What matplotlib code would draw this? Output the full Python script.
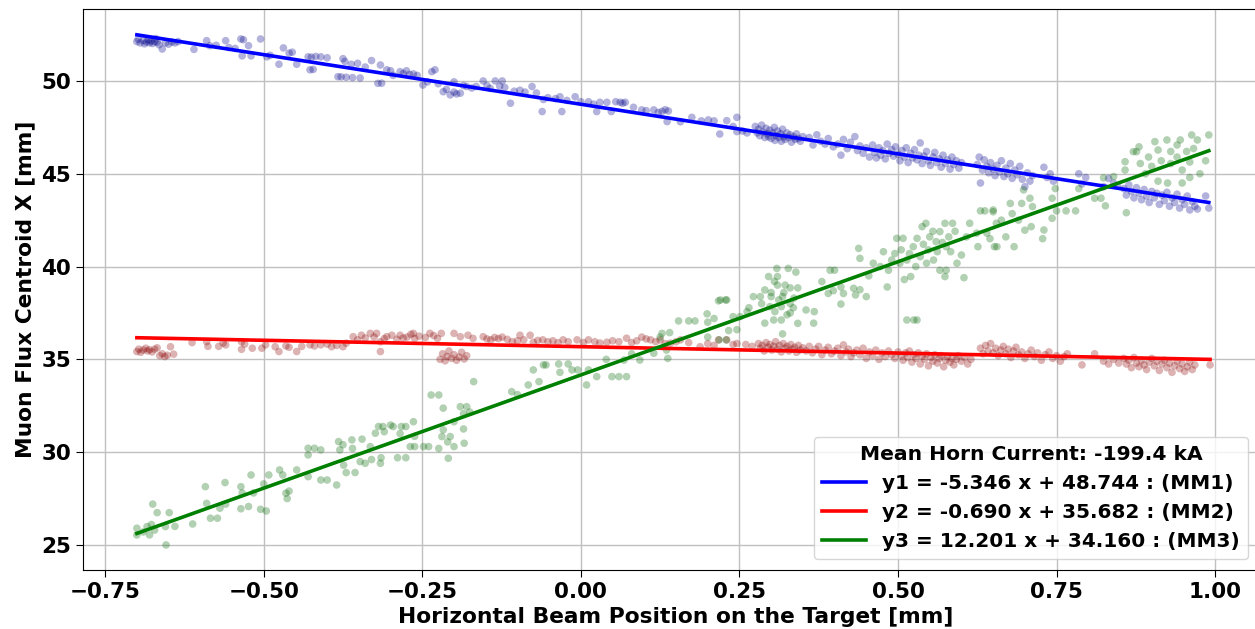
import numpy as np
import matplotlib
matplotlib.use('Agg')
import matplotlib.pyplot as plt

# beam position [mm] vs. muon flux centroid [mm] for each muon monitor
mm1_points = [
    (-0.700, 52.12), (-0.698, 52.25), (-0.695, 52.05), (-0.690, 52.18), (-0.688, 52.00), (-0.685, 52.10),
    (-0.682, 52.22), (-0.680, 52.05), (-0.678, 52.15), (-0.675, 52.02), (-0.672, 52.12), (-0.670, 52.28),
    (-0.668, 52.08), (-0.665, 51.95), (-0.660, 51.72), (-0.655, 52.05), (-0.650, 51.98), (-0.645, 52.10),
    (-0.640, 52.05), (-0.635, 52.12), (-0.610, 51.70), (-0.590, 52.17), (-0.585, 51.90), (-0.575, 51.92),
    (-0.560, 52.17), (-0.555, 51.80), (-0.545, 51.75), (-0.536, 52.26), (-0.532, 52.22), (-0.524, 51.90),
    (-0.534, 51.35), (-0.520, 51.35), (-0.505, 52.26), (-0.495, 51.30), (-0.490, 51.38), (-0.469, 51.78),
    (-0.460, 51.50), (-0.455, 51.55), (-0.476, 50.90), (-0.448, 50.90), (-0.430, 51.30), (-0.425, 51.28),
    (-0.418, 51.32), (-0.410, 51.30), (-0.400, 51.25), (-0.427, 50.60), (-0.422, 50.62), (-0.375, 51.20),
    (-0.372, 51.05), (-0.383, 50.23), (-0.378, 50.22), (-0.370, 50.20), (-0.360, 50.18), (-0.348, 50.16),
    (-0.362, 50.90), (-0.352, 50.95), (-0.330, 51.10), (-0.340, 50.75), (-0.316, 50.86), (-0.320, 49.87),
    (-0.314, 49.88), (-0.306, 50.60), (-0.300, 50.55), (-0.296, 50.30), (-0.285, 50.50), (-0.280, 50.40),
    (-0.275, 50.55), (-0.270, 50.35), (-0.264, 50.38), (-0.258, 50.30), (-0.249, 49.78), (-0.242, 49.95),
    (-0.235, 50.50), (-0.230, 50.60), (-0.225, 49.85), (-0.217, 49.42), (-0.212, 49.55), (-0.206, 49.25),
    (-0.200, 49.40), (-0.196, 49.30), (-0.190, 49.34), (-0.200, 49.95), (-0.185, 49.75), (-0.180, 49.70),
    (-0.172, 49.62), (-0.165, 49.70), (-0.154, 50.00), (-0.148, 49.75), (-0.143, 49.60), (-0.135, 50.00),
    (-0.128, 49.72), (-0.124, 50.00), (-0.120, 49.65), (-0.111, 48.80), (-0.105, 49.45), (-0.096, 49.50),
    (-0.088, 49.40), (-0.077, 49.70), (-0.070, 49.35), (-0.061, 48.35), (-0.059, 49.00), (-0.052, 49.10),
    (-0.040, 49.05), (-0.033, 49.15), (-0.030, 48.35), (-0.022, 48.95), (-0.009, 49.15), (0.000, 48.88),
    (0.012, 48.88), (0.020, 48.75), (0.025, 48.35), (0.030, 48.85), (0.041, 48.85), (0.048, 48.35),
    (0.055, 48.88), (0.062, 48.85), (0.070, 48.85), (0.066, 48.80), (0.083, 48.58), (0.096, 48.44),
    (0.103, 48.40), (0.115, 48.44), (0.122, 48.30), (0.128, 48.36), (0.133, 48.45), (0.138, 48.38),
    (0.136, 47.81), (0.157, 47.80), (0.175, 48.04), (0.190, 47.85), (0.201, 47.90), (0.210, 47.85),
    (0.219, 47.14), (0.230, 47.86), (0.240, 47.55), (0.246, 48.04), (0.246, 47.27), (0.255, 47.30),
    (0.262, 47.20), (0.275, 47.55), (0.278, 47.20), (0.280, 47.40), (0.282, 47.05), (0.285, 47.62),
    (0.287, 47.25), (0.290, 46.95), (0.292, 47.45), (0.294, 47.15), (0.296, 47.00), (0.298, 47.35),
    (0.300, 46.90), (0.302, 47.20), (0.305, 47.50), (0.306, 46.80), (0.308, 47.05), (0.310, 47.30),
    (0.312, 46.95), (0.315, 47.15), (0.316, 46.75), (0.318, 47.40), (0.320, 47.00), (0.322, 46.85),
    (0.325, 47.20), (0.327, 46.95), (0.330, 47.10), (0.332, 46.70), (0.335, 47.00), (0.338, 46.85),
    (0.340, 47.15), (0.343, 46.90), (0.346, 46.75), (0.350, 47.00), (0.360, 46.95), (0.366, 46.55),
    (0.372, 47.10), (0.378, 46.75), (0.385, 46.60), (0.390, 46.90), (0.398, 46.45), (0.405, 46.60),
    (0.410, 46.00), (0.414, 46.85), (0.420, 46.35), (0.425, 46.70), (0.432, 47.00), (0.436, 46.25),
    (0.440, 46.50), (0.445, 46.10), (0.450, 46.40), (0.455, 45.90), (0.460, 46.55), (0.463, 46.15),
    (0.466, 45.85), (0.470, 46.40), (0.473, 46.00), (0.476, 46.25), (0.480, 45.80), (0.483, 46.60),
    (0.486, 46.10), (0.490, 46.30), (0.493, 45.95), (0.496, 46.45), (0.500, 46.05), (0.503, 45.70),
    (0.506, 46.25), (0.510, 45.90), (0.513, 46.40), (0.516, 45.60), (0.520, 46.10), (0.523, 45.85),
    (0.526, 46.30), (0.530, 45.75), (0.533, 46.00), (0.535, 46.66), (0.538, 45.55), (0.541, 45.95),
    (0.545, 46.20), (0.548, 45.70), (0.551, 45.45), (0.555, 45.90), (0.558, 46.15), (0.561, 45.60),
    (0.565, 45.80), (0.568, 45.35), (0.571, 46.00), (0.575, 45.55), (0.578, 45.75), (0.582, 45.25),
    (0.585, 45.90), (0.588, 45.50), (0.592, 45.70), (0.596, 45.30), (0.600, 45.60), (0.625, 45.50),
    (0.628, 45.90), (0.630, 44.50), (0.633, 45.20), (0.636, 45.75), (0.640, 45.40), (0.643, 45.05),
    (0.646, 45.60), (0.650, 45.25), (0.653, 44.90), (0.656, 45.45), (0.660, 45.10), (0.663, 45.70),
    (0.667, 44.85), (0.670, 45.30), (0.673, 45.00), (0.677, 45.55), (0.680, 44.75), (0.684, 45.20),
    (0.688, 44.95), (0.692, 45.40), (0.696, 44.70), (0.700, 44.30), (0.704, 45.05), (0.708, 44.60),
    (0.712, 44.90), (0.730, 45.35), (0.735, 44.80), (0.740, 45.00), (0.745, 44.60), (0.785, 45.00),
    (0.790, 44.45), (0.796, 44.80), (0.824, 44.30), (0.832, 44.75), (0.840, 44.50), (0.846, 44.35),
    (0.856, 44.20), (0.860, 43.85), (0.864, 44.40), (0.868, 44.05), (0.872, 43.70), (0.876, 44.25),
    (0.880, 43.95), (0.884, 43.60), (0.888, 44.15), (0.892, 43.80), (0.896, 43.45), (0.900, 44.05),
    (0.904, 43.70), (0.908, 43.95), (0.912, 43.35), (0.916, 43.85), (0.920, 43.55), (0.924, 44.00),
    (0.928, 43.25), (0.932, 43.70), (0.936, 43.45), (0.940, 43.90), (0.944, 43.15), (0.948, 43.60),
    (0.952, 43.35), (0.956, 43.80), (0.960, 43.05), (0.964, 43.50), (0.968, 43.25), (0.972, 43.10),
    (0.985, 43.80), (0.990, 43.15),
]

mm2_points = [
    (-0.700, 35.42), (-0.697, 35.55), (-0.694, 35.38), (-0.690, 35.50), (-0.686, 35.60), (-0.683, 35.45),
    (-0.680, 35.52), (-0.676, 35.40), (-0.672, 35.55), (-0.668, 35.62), (-0.664, 35.20), (-0.660, 35.30),
    (-0.656, 35.15), (-0.652, 35.22), (-0.647, 35.68), (-0.642, 35.28), (-0.613, 35.90), (-0.590, 35.95),
    (-0.588, 35.70), (-0.571, 35.70), (-0.564, 35.88), (-0.560, 35.78), (-0.535, 35.95), (-0.535, 35.54),
    (-0.530, 35.82), (-0.518, 35.60), (-0.503, 35.60), (-0.497, 35.78), (-0.482, 35.68), (-0.476, 35.42),
    (-0.465, 35.72), (-0.460, 35.65), (-0.448, 35.42), (-0.440, 35.70), (-0.427, 35.78), (-0.420, 35.72),
    (-0.410, 35.78), (-0.400, 35.82), (-0.393, 35.68), (-0.385, 35.75), (-0.375, 35.68), (-0.370, 35.87),
    (-0.359, 36.22), (-0.352, 36.05), (-0.346, 36.30), (-0.340, 36.15), (-0.332, 36.40), (-0.326, 36.20),
    (-0.322, 36.40), (-0.316, 35.95), (-0.316, 35.42), (-0.310, 36.12), (-0.306, 36.22), (-0.298, 36.30),
    (-0.290, 36.08), (-0.285, 36.30), (-0.280, 36.15), (-0.274, 36.20), (-0.268, 36.35), (-0.264, 36.40),
    (-0.262, 36.13), (-0.255, 36.25), (-0.245, 36.18), (-0.238, 36.40), (-0.232, 36.28), (-0.226, 36.13),
    (-0.220, 36.40), (-0.211, 35.15), (-0.222, 35.00), (-0.218, 35.30), (-0.214, 34.92), (-0.208, 35.45),
    (-0.204, 35.05), (-0.200, 35.25), (-0.196, 34.95), (-0.192, 35.12), (-0.188, 35.38), (-0.184, 35.02),
    (-0.180, 35.20), (-0.200, 36.40), (-0.190, 36.22), (-0.178, 36.30), (-0.170, 36.13), (-0.154, 36.22),
    (-0.148, 36.10), (-0.142, 36.05), (-0.136, 36.18), (-0.130, 36.12), (-0.124, 36.20), (-0.116, 36.08),
    (-0.108, 35.95), (-0.100, 36.00), (-0.096, 36.30), (-0.090, 36.05), (-0.080, 36.30), (-0.075, 35.92),
    (-0.068, 36.02), (-0.060, 36.05), (-0.052, 35.95), (-0.044, 36.00), (-0.036, 35.90), (-0.028, 36.05),
    (-0.020, 35.95), (-0.006, 36.05), (0.004, 35.90), (0.012, 36.05), (0.022, 35.95), (0.030, 35.88),
    (0.041, 35.92), (0.050, 36.00), (0.060, 35.95), (0.072, 36.14), (0.080, 35.90), (0.088, 36.00),
    (0.096, 36.20), (0.103, 36.10), (0.110, 36.05), (0.118, 35.95), (0.125, 36.05), (0.133, 35.85),
    (0.141, 35.87), (0.150, 35.95), (0.157, 36.05), (0.170, 35.90), (0.188, 35.68), (0.200, 35.85),
    (0.210, 35.75), (0.217, 36.05), (0.230, 36.05), (0.240, 35.80), (0.246, 35.85), (0.260, 35.80),
    (0.270, 35.70), (0.280, 35.85), (0.283, 35.60), (0.286, 35.75), (0.289, 35.45), (0.292, 35.90),
    (0.295, 35.65), (0.298, 35.80), (0.301, 35.50), (0.304, 35.70), (0.307, 35.95), (0.310, 35.55),
    (0.313, 35.75), (0.316, 35.40), (0.319, 35.85), (0.322, 35.60), (0.325, 35.70), (0.328, 35.45),
    (0.331, 35.80), (0.334, 35.55), (0.337, 35.65), (0.340, 35.38), (0.343, 35.75), (0.346, 35.50),
    (0.350, 35.62), (0.355, 35.45), (0.360, 35.70), (0.365, 35.35), (0.370, 35.55), (0.375, 35.70),
    (0.380, 35.25), (0.385, 35.50), (0.390, 35.65), (0.395, 35.30), (0.400, 35.45), (0.405, 35.60),
    (0.410, 35.20), (0.414, 35.78), (0.418, 35.40), (0.422, 35.55), (0.426, 35.15), (0.430, 35.35),
    (0.435, 35.50), (0.440, 35.25), (0.445, 35.60), (0.450, 35.05), (0.455, 35.40), (0.460, 35.20),
    (0.465, 35.50), (0.470, 35.00), (0.475, 35.35), (0.480, 35.15), (0.485, 35.45), (0.490, 35.25),
    (0.495, 35.05), (0.500, 35.40), (0.505, 35.20), (0.508, 34.95), (0.512, 35.35), (0.515, 35.10),
    (0.518, 35.45), (0.522, 34.85), (0.525, 35.25), (0.528, 35.05), (0.532, 35.35), (0.535, 34.75),
    (0.538, 35.15), (0.542, 35.00), (0.545, 35.30), (0.548, 34.65), (0.552, 35.10), (0.555, 34.90),
    (0.558, 35.25), (0.562, 34.80), (0.565, 35.05), (0.568, 35.20), (0.572, 34.60), (0.575, 34.95),
    (0.578, 35.15), (0.582, 34.85), (0.585, 35.05), (0.588, 34.70), (0.592, 35.00), (0.595, 35.20),
    (0.600, 34.90), (0.605, 35.10), (0.610, 34.75), (0.615, 35.00), (0.630, 35.60), (0.634, 35.30),
    (0.638, 35.75), (0.642, 35.45), (0.646, 35.85), (0.650, 35.35), (0.654, 35.60), (0.658, 35.20),
    (0.662, 35.50), (0.666, 35.70), (0.670, 35.30), (0.674, 35.55), (0.678, 35.10), (0.682, 35.45),
    (0.686, 35.65), (0.690, 35.25), (0.695, 35.40), (0.700, 35.05), (0.705, 35.30), (0.710, 35.50),
    (0.715, 35.15), (0.720, 35.35), (0.726, 34.95), (0.732, 35.25), (0.738, 35.40), (0.744, 35.05),
    (0.750, 35.20), (0.756, 34.90), (0.762, 35.15), (0.767, 35.30), (0.790, 34.70), (0.810, 35.30),
    (0.824, 34.90), (0.832, 34.75), (0.840, 35.00), (0.848, 34.80), (0.856, 35.05), (0.860, 34.75),
    (0.864, 34.95), (0.868, 34.55), (0.872, 35.10), (0.876, 34.80), (0.880, 34.60), (0.884, 34.95),
    (0.888, 34.70), (0.892, 34.45), (0.896, 34.85), (0.900, 35.05), (0.904, 34.65), (0.908, 34.90),
    (0.912, 34.40), (0.916, 34.75), (0.920, 34.95), (0.924, 34.55), (0.928, 34.80), (0.932, 34.30),
    (0.936, 34.65), (0.940, 34.90), (0.944, 34.50), (0.948, 34.75), (0.952, 34.35), (0.956, 34.60),
    (0.960, 34.85), (0.964, 34.45), (0.968, 34.70), (0.992, 34.70),
]

mm3_points = [
    (-0.700, 25.54), (-0.700, 25.90), (-0.690, 25.70), (-0.684, 25.99), (-0.680, 25.54), (-0.677, 26.10),
    (-0.672, 25.80), (-0.668, 26.74), (-0.675, 27.20), (-0.655, 25.99), (-0.654, 25.00), (-0.649, 26.74),
    (-0.640, 26.00), (-0.612, 26.13), (-0.592, 28.14), (-0.590, 27.24), (-0.584, 26.44), (-0.573, 26.44),
    (-0.569, 26.98), (-0.561, 28.36), (-0.560, 27.20), (-0.536, 28.14), (-0.536, 26.95), (-0.534, 27.80),
    (-0.524, 27.07), (-0.520, 28.77), (-0.516, 27.80), (-0.505, 26.92), (-0.500, 28.29), (-0.496, 26.83),
    (-0.492, 28.77), (-0.475, 29.04), (-0.470, 28.77), (-0.465, 27.79), (-0.463, 27.50), (-0.460, 27.90),
    (-0.448, 29.04), (-0.430, 30.21), (-0.420, 30.21), (-0.430, 29.85), (-0.430, 28.68), (-0.410, 28.50),
    (-0.410, 30.12), (-0.400, 28.50), (-0.385, 28.23), (-0.382, 30.57), (-0.380, 30.12), (-0.375, 30.40),
    (-0.374, 29.30), (-0.370, 28.90), (-0.361, 30.66), (-0.360, 30.20), (-0.356, 28.90), (-0.348, 29.49),
    (-0.345, 30.70), (-0.340, 29.40), (-0.332, 30.30), (-0.330, 29.60), (-0.324, 31.02), (-0.319, 31.38),
    (-0.316, 29.40), (-0.315, 29.70), (-0.312, 31.38), (-0.310, 31.10), (-0.300, 31.46), (-0.296, 31.38),
    (-0.289, 29.70), (-0.285, 31.00), (-0.283, 31.38), (-0.276, 31.38), (-0.276, 29.70), (-0.269, 30.30),
    (-0.264, 31.64), (-0.262, 30.85), (-0.262, 30.30), (-0.248, 30.30), (-0.240, 30.30), (-0.236, 33.08),
    (-0.224, 33.08), (-0.224, 30.20), (-0.219, 30.84), (-0.217, 32.37), (-0.217, 31.20), (-0.210, 30.55),
    (-0.209, 29.67), (-0.206, 30.84), (-0.200, 30.30), (-0.200, 31.64), (-0.190, 32.45), (-0.185, 32.07),
    (-0.184, 30.48), (-0.185, 31.25), (-0.180, 32.45), (-0.175, 32.16), (-0.169, 33.80), (-0.109, 33.26),
    (-0.100, 33.10), (-0.083, 33.62), (-0.075, 34.43), (-0.059, 34.70), (-0.055, 34.70), (-0.066, 33.80),
    (-0.035, 34.75), (-0.033, 34.30), (-0.020, 34.75), (-0.014, 34.43), (-0.005, 34.43), (0.009, 33.62),
    (0.012, 34.43), (0.025, 34.07), (0.040, 35.00), (0.049, 34.07), (0.060, 34.07), (0.072, 34.07),
    (0.068, 34.96), (0.080, 35.30), (0.093, 34.96), (0.115, 35.33), (0.128, 36.40), (0.140, 36.44),
    (0.125, 36.20), (0.137, 35.05), (0.135, 35.50), (0.154, 37.07), (0.170, 37.07), (0.180, 37.07),
    (0.199, 37.45), (0.200, 37.00), (0.200, 36.20), (0.210, 37.20), (0.217, 38.15), (0.228, 38.20),
    (0.218, 36.05), (0.229, 36.05), (0.233, 36.55), (0.246, 36.60), (0.262, 37.57), (0.220, 38.20),
    (0.230, 38.20), (0.240, 37.30), (0.251, 37.30), (0.265, 37.78), (0.272, 38.38), (0.283, 38.38),
    (0.285, 38.00), (0.290, 38.74), (0.290, 36.95), (0.296, 39.46), (0.298, 37.84), (0.300, 38.38),
    (0.304, 37.12), (0.306, 37.57), (0.309, 39.90), (0.310, 39.46), (0.310, 39.00), (0.316, 37.84),
    (0.316, 37.12), (0.318, 38.38), (0.318, 36.37), (0.322, 39.00), (0.327, 39.90), (0.330, 38.85),
    (0.330, 38.00), (0.330, 37.50), (0.335, 37.78), (0.339, 39.70), (0.342, 38.85), (0.342, 36.94),
    (0.300, 38.60), (0.305, 39.20), (0.312, 38.20), (0.320, 38.60), (0.325, 37.40), (0.336, 38.30),
    (0.355, 37.66), (0.367, 36.95), (0.368, 37.57), (0.380, 39.19), (0.390, 38.55), (0.393, 39.80),
    (0.398, 38.70), (0.400, 39.80), (0.410, 38.90), (0.410, 37.98), (0.414, 38.55), (0.430, 38.83),
    (0.433, 38.47), (0.438, 40.98), (0.440, 38.75), (0.440, 40.44), (0.450, 38.38), (0.454, 39.50),
    (0.461, 40.18), (0.472, 40.00), (0.477, 40.80), (0.483, 38.90), (0.490, 40.35), (0.498, 41.52),
    (0.503, 40.18), (0.508, 41.52), (0.510, 39.30), (0.514, 40.35), (0.514, 37.12), (0.520, 39.46),
    (0.524, 41.07), (0.525, 37.12), (0.530, 41.52), (0.530, 37.12), (0.535, 40.53), (0.538, 42.15),
    (0.544, 42.33), (0.545, 40.18), (0.550, 41.60), (0.556, 40.35), (0.560, 41.34), (0.566, 41.88),
    (0.566, 39.80), (0.574, 42.33), (0.574, 39.46), (0.576, 41.07), (0.576, 39.80), (0.580, 41.60),
    (0.586, 42.33), (0.593, 40.18), (0.600, 40.62), (0.604, 39.40), (0.608, 41.60), (0.613, 42.33),
    (0.485, 39.80), (0.495, 40.70), (0.505, 40.90), (0.518, 40.70), (0.528, 40.00), (0.540, 41.20),
    (0.548, 40.90), (0.555, 41.90), (0.562, 40.80), (0.570, 41.30), (0.583, 40.80), (0.590, 41.90),
    (0.624, 41.80), (0.626, 41.07), (0.630, 43.00), (0.637, 43.00), (0.640, 41.80), (0.645, 41.50),
    (0.650, 42.95), (0.650, 43.05), (0.652, 41.07), (0.655, 42.33), (0.656, 41.07), (0.663, 42.50),
    (0.670, 41.60), (0.677, 43.40), (0.680, 42.85), (0.683, 41.07), (0.690, 42.50), (0.695, 43.40),
    (0.698, 44.13), (0.700, 41.96), (0.708, 43.68), (0.710, 42.15), (0.712, 43.23), (0.728, 41.50),
    (0.730, 41.97), (0.743, 43.68), (0.743, 42.60), (0.748, 44.20), (0.750, 43.00), (0.765, 43.00),
    (0.780, 43.00), (0.785, 44.20), (0.810, 43.68), (0.820, 43.68), (0.827, 43.27), (0.860, 42.90),
    (0.824, 44.78), (0.840, 44.85), (0.858, 45.65), (0.858, 45.20), (0.871, 46.19), (0.876, 46.19),
    (0.880, 46.45), (0.882, 45.55), (0.890, 45.00), (0.895, 45.90), (0.900, 45.40), (0.905, 46.73),
    (0.910, 46.28), (0.910, 44.60), (0.915, 45.70), (0.924, 46.82), (0.930, 46.20), (0.930, 45.55),
    (0.925, 44.50), (0.940, 46.55), (0.940, 45.90), (0.945, 46.82), (0.948, 45.20), (0.948, 44.50),
    (0.955, 46.20), (0.960, 45.63), (0.963, 47.09), (0.960, 44.80), (0.966, 46.36), (0.972, 46.82),
    (0.976, 45.00), (0.985, 45.70), (0.990, 47.09),
]

# linear fit results per monitor
monitors = ['MM1', 'MM2', 'MM3']
slopes = [-5.346, -0.690, 12.201]
intercepts = [48.744, 35.682, 34.160]
horn_current = -199.4  # kA

point_colors = ['darkblue', 'darkred', 'darkgreen']
line_colors = ['blue', 'red', 'green']

fig = plt.figure(figsize=(12.55, 6.29), dpi=100)
ax = fig.add_axes([0.0661, 0.0938, 0.9451, 0.892])

for i, pts in enumerate([mm1_points, mm2_points, mm3_points]):
    x, y = np.array(pts).T
    ax.scatter(x, y, s=30, color=point_colors[i], alpha=0.3, edgecolors='none', zorder=2)

for i, pts in enumerate([mm1_points, mm2_points, mm3_points]):
    x = np.array(pts)[:, 0]
    xf = np.array([x.min(), x.max()])
    ax.plot(xf, slopes[i] * xf + intercepts[i], color=line_colors[i], lw=2.6, zorder=3,
            label=f'y{i+1} = {slopes[i]:.3f} x + {intercepts[i]:.3f} : ({monitors[i]})')

ax.set_xlim(-0.785, 1.085)
ax.set_ylim(23.65, 53.88)
ax.set_yticks([25, 30, 35, 40, 45, 50])
ax.grid(True, color='#c0c0c0', lw=1.0, zorder=0)
ax.set_axisbelow(True)

ax.tick_params(labelsize=15.5, length=5)
for lab in ax.get_xticklabels() + ax.get_yticklabels():
    lab.set_fontweight('bold')

ax.set_xlabel('Horizontal Beam Position on the Target [mm]', fontsize=15.7, fontweight='bold')
ax.set_ylabel('Muon Flux Centroid X [mm]', fontsize=15.7, fontweight='bold')

leg = ax.legend(loc='lower right', bbox_to_anchor=(0.9944, 0.111), bbox_transform=fig.transFigure,
                borderaxespad=0, title=f'Mean Horn Current: {horn_current} kA',
                handlelength=2.2, prop={'size': 14.4, 'weight': 'bold'},
                title_fontproperties={'size': 14.6, 'weight': 'bold'})

fig.savefig('out.png', dpi=100)
